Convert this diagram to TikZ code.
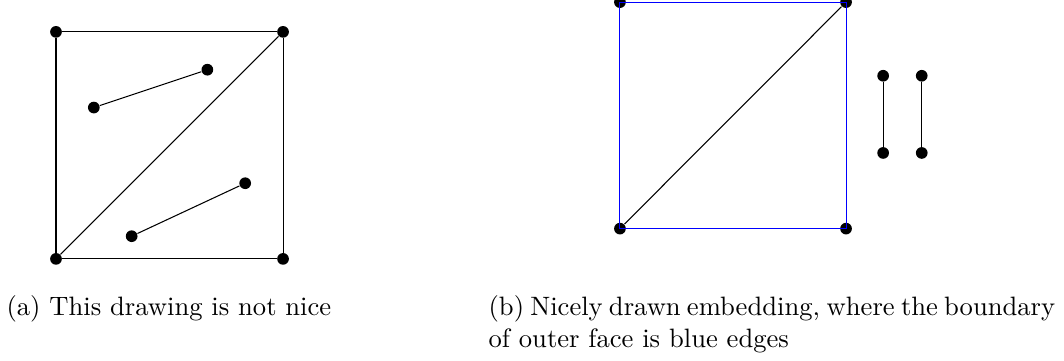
\documentclass[tikz,border=0pt]{standalone}
\usepackage{tikz}
\usetikzlibrary{positioning}

\begin{document}
\begin{tikzpicture}[
    vertex/.style={circle, fill=black, inner sep=0pt, minimum size=4.4pt},
    caption/.style={inner sep=0pt, anchor=north west, font=\normalsize}]

\useasboundingbox (-0.74,-1.347) rectangle (13.32,3.421);

% Left drawing: square, its diagonal and two loose edges inside
\node[vertex] (p1) at (0,0) {};
\node[vertex] (p2) at (3,0) {};
\node[vertex] (p3) at (3,3) {};
\node[vertex] (p4) at (0,3) {};
\node[vertex] (q1) at (0.5,2) {};
\node[vertex] (q2) at (2,2.5) {};
\node[vertex] (q3) at (1,0.3) {};
\node[vertex] (q4) at (2.5,1) {};

\foreach \src/\dst in {p1/p2, p2/p3, p3/p4, p4/p1, p1/p3, q1/q2, q3/q4} {
  \draw (\src) -- (\dst);
}

% Right drawing: same square, the loose edges moved outside
\node[vertex] (r1) at (7.452,0.4) {};
\node[vertex] (r2) at (10.44,0.4) {};
\node[vertex] (r3) at (10.44,3.393) {};
\node[vertex] (r4) at (7.452,3.393) {};
\node[vertex] (s1) at (10.93,1.4) {};
\node[vertex] (s2) at (10.93,2.42) {};
\node[vertex] (s3) at (11.44,1.4) {};
\node[vertex] (s4) at (11.44,2.42) {};

% outer face boundary in blue
\draw[blue] (r1.center) -- (r2.center) -- (r3.center) -- (r4.center) -- cycle;
\foreach \src/\dst in {r1/r3, s1/s2, s3/s4} {
  \draw (\src) -- (\dst);
}

% Captions
\node[caption] (capa) at (-0.66,-0.476) {(a) This drawing is not nice};
\node[caption, text width=213pt, align=justify] (capb) at (5.71,-0.476)
  {\hyphenpenalty=10000 \tolerance=9999
   (b) Nicely drawn embedding, where the boundary of outer face is blue edges};

\end{tikzpicture}
\end{document}
